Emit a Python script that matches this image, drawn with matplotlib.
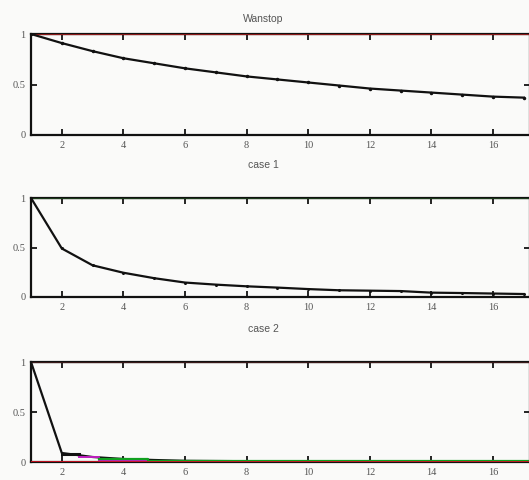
import matplotlib
matplotlib.use("Agg")
import matplotlib.pyplot as plt

# Iteration index
steps = list(range(1, 18))

# Normalised response per iteration
wanstop = [1.0, 0.91, 0.83, 0.76, 0.71, 0.66, 0.62, 0.58, 0.55, 0.52,
           0.49, 0.46, 0.44, 0.42, 0.40, 0.38, 0.37]
case1 = [1.0, 0.49, 0.32, 0.245, 0.19, 0.146, 0.125, 0.108, 0.095, 0.08,
         0.068, 0.064, 0.06, 0.044, 0.04, 0.035, 0.03]
case2 = [1.0, 0.09, 0.05, 0.03, 0.02, 0.012, 0.01, 0.008, 0.007, 0.006,
         0.005, 0.004, 0.004, 0.003, 0.003, 0.002, 0.002]

# Companion series in case 2 (staircase tails near zero)
case2_black_step_x = [2, 2.55]
case2_black_step = [0.085, 0.085]
case2_magenta_x = [2.55, 3.2, 17.2]
case2_magenta = [0.055, 0.01, 0.01]
case2_green_x = [3.2, 4.8, 17.2]
case2_green = [0.032, 0.012, 0.012]
case2_blue_x = [3.2, 4.8, 17.2]
case2_blue = [0.018, 0.004, 0.004]

reference = [1.0, 1.0]
baseline = [0.0, 0.0]
ref_x = [1, 17.2]

titles = ["Wanstop", "case 1", "case 2"]
xticks = [2, 4, 6, 8, 10, 12, 14, 16]
yticks = [0, 0.5, 1]
ytick_labels = ["0", "0.5", "1"]

W, H = 529, 480
bg = "#fafaf9"
fig = plt.figure(figsize=(W / 100, H / 100), dpi=100)
fig.patch.set_facecolor(bg)

# (top_px, bottom_px) of each axes box
boxes = [(34, 135), (198, 297), (362, 462)]
left_px, right_px = 31, 530

text_col = "#555555"

axes = []
for (top, bot) in boxes:
    ax = fig.add_axes([left_px / W, 1 - bot / H, (right_px - left_px) / W, (bot - top) / H])
    ax.set_facecolor(bg)
    ax.set_xlim(1, 17.2)
    ax.set_ylim(0, 1)
    ax.set_xticks(xticks)
    ax.set_yticks(yticks)
    ax.set_yticklabels(ytick_labels)
    ax.tick_params(direction="in", top=True, right=True, length=4, width=1.2,
                   labelsize=7.5, labelcolor=text_col, pad=4)
    for lab in ax.get_xticklabels() + ax.get_yticklabels():
        lab.set_family("Liberation Serif")
    for s in ax.spines.values():
        s.set_linewidth(1.6)
        s.set_color("#111111")
    axes.append(ax)

ax1, ax2, ax3 = axes

ax1.plot(ref_x, reference, color="#8a1a1a", lw=1.6, zorder=3)
ax1.plot(steps, wanstop, color="#111111", lw=1.6, marker="o", ms=1.5, zorder=4)

ax2.plot(ref_x, reference, color="#1a3a1a", lw=1.6, zorder=3)
ax2.plot(steps, case1, color="#111111", lw=1.6, marker="o", ms=1.2, zorder=4)

ax3.plot(ref_x, reference, color="#3a1a1a", lw=1.6, zorder=3)
ax3.plot(steps, case2, color="#111111", lw=1.6, zorder=3)
ax3.plot(case2_black_step_x, case2_black_step, color="#111111", lw=2.2, zorder=4)
ax3.plot(case2_blue_x, case2_blue, color="#3030d0", lw=1.4, zorder=4, drawstyle="steps-post")
ax3.plot(case2_magenta_x, case2_magenta, color="#c020c0", lw=1.4, zorder=4, drawstyle="steps-post")
ax3.plot(case2_green_x, case2_green, color="#10a020", lw=1.6, zorder=4, drawstyle="steps-post")
ax3.plot(ref_x, baseline, color="#d01020", lw=2.0, zorder=5)

title_y = [19, 165, 329]
for t, ty in zip(titles, title_y):
    fig.text(263 / W, 1 - ty / H, t, ha="center", va="center",
             family="Liberation Sans", size=7.5, color=text_col)

fig.savefig("out.png", dpi=100, facecolor=fig.get_facecolor())
